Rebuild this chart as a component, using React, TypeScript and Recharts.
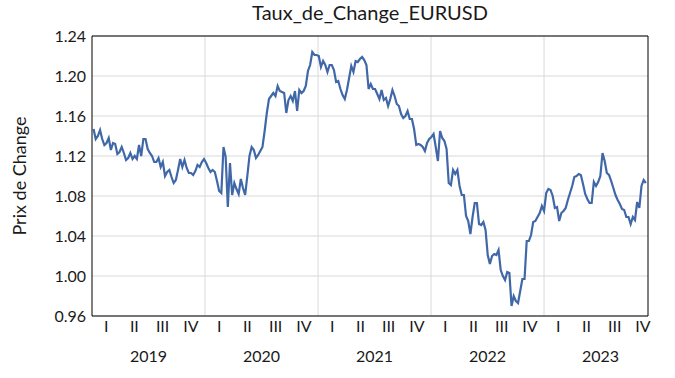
import { LineChart, Line, XAxis, YAxis, CartesianGrid, ReferenceLine } from 'recharts'

// weekly EUR/USD closes, first week of Jan 2019 -> end of Nov 2023
const rates = [
  1.147, 1.137, 1.140, 1.146, 1.137, 1.131, 1.133, 1.138, 1.126, 1.133,
  1.132, 1.122, 1.124, 1.129, 1.123, 1.116, 1.118, 1.123, 1.117, 1.120,
  1.117, 1.131, 1.120, 1.137, 1.137, 1.127, 1.123, 1.120, 1.114, 1.114,
  1.118, 1.109, 1.114, 1.100, 1.104, 1.106, 1.099, 1.093, 1.096, 1.106,
  1.117, 1.109, 1.116, 1.108, 1.103, 1.103, 1.101, 1.105, 1.111, 1.109,
  1.114, 1.117, 1.113, 1.108, 1.104, 1.106, 1.104, 1.095, 1.085, 1.083,
  1.129, 1.119, 1.069, 1.113, 1.081, 1.093, 1.087, 1.082, 1.097, 1.088,
  1.081, 1.100, 1.120, 1.129, 1.126, 1.118, 1.121, 1.125, 1.129, 1.145,
  1.163, 1.177, 1.180, 1.183, 1.180, 1.190, 1.185, 1.184, 1.183, 1.163,
  1.176, 1.180, 1.175, 1.185, 1.165, 1.186, 1.183, 1.185, 1.190, 1.205,
  1.211, 1.224, 1.221, 1.221, 1.220, 1.209, 1.215, 1.211, 1.204, 1.211,
  1.211, 1.206, 1.194, 1.195, 1.187, 1.181, 1.177, 1.186, 1.198, 1.210,
  1.204, 1.215, 1.214, 1.217, 1.219, 1.216, 1.211, 1.187, 1.192, 1.187,
  1.187, 1.182, 1.177, 1.186, 1.176, 1.178, 1.170, 1.177, 1.186, 1.180,
  1.172, 1.170, 1.162, 1.158, 1.160, 1.165, 1.157, 1.157, 1.147, 1.131,
  1.132, 1.131, 1.129, 1.125, 1.133, 1.137, 1.139, 1.142, 1.129, 1.115,
  1.145, 1.138, 1.135, 1.127, 1.093, 1.091, 1.106, 1.102, 1.106, 1.090,
  1.081, 1.081, 1.060, 1.055, 1.042, 1.059, 1.073, 1.073, 1.052, 1.051,
  1.054, 1.046, 1.021, 1.012, 1.020, 1.022, 1.021, 1.026, 1.006, 1.000,
  0.996, 1.004, 1.003, 0.970, 0.980, 0.975, 0.973, 0.985, 0.997, 0.997,
  1.035, 1.035, 1.041, 1.054, 1.055, 1.059, 1.063, 1.070, 1.065, 1.083,
  1.087, 1.086, 1.080, 1.068, 1.069, 1.055, 1.063, 1.065, 1.068, 1.076,
  1.083, 1.090, 1.099, 1.100, 1.102, 1.101, 1.092, 1.082, 1.077, 1.073,
  1.073, 1.094, 1.090, 1.094, 1.100, 1.123, 1.115, 1.103, 1.101, 1.095,
  1.088, 1.081, 1.076, 1.072, 1.067, 1.066, 1.059, 1.059, 1.052, 1.059,
  1.056, 1.074, 1.068, 1.090, 1.096, 1.093,
]

const startYear = 2019
const startDay = 5 // 6 Jan 2019
const endYear = 2023.92
const years = [2019, 2020, 2021, 2022, 2023]
const quarterLabels = ['I', 'II', 'III', 'IV']
const yTicks = [0.96, 1.0, 1.04, 1.08, 1.12, 1.16, 1.2, 1.24]

const data = rates.map((v, i) => ({ t: startYear + (startDay + 7 * i) / 365.25, v }))
const quarterTicks = years.flatMap(y => quarterLabels.map((_, q) => y + 0.125 + q * 0.25))
const yearTicks = years.map(y => y + 0.5)

const font = 'Lato, "Open Sans", sans-serif'
const tickStyle = { fontSize: 16, fill: '#1a1a1a', fontFamily: font }

function YLabel({ viewBox }: any) {
  const cy = viewBox.y + viewBox.height / 2
  return (
    <text x={19} y={cy} transform={`rotate(-90, 19, ${cy})`} textAnchor="middle"
      dominantBaseline="central" fontSize={18} fill="#1a1a1a" fontFamily={font}>
      Prix de Change
    </text>
  )
}

export default function App() {
  return (
    <div style={{ position: 'relative', width: 675, height: 378, background: '#fff' }}>
      <style>{'body{margin:0}'}</style>
      <div style={{
        position: 'absolute', left: 92, width: 556, top: 0, textAlign: 'center',
        fontFamily: font, fontSize: 20, color: '#1a1a1a'
      }}>
        Taux_de_Change_EURUSD
      </div>
      <LineChart width={675} height={378} data={data} margin={{ top: 36, right: 27, bottom: 0, left: 0 }}>
        <CartesianGrid vertical={false} stroke="#d9d9d9" />
        {years.slice(1).map(y => (
          <ReferenceLine key={y} x={y} stroke="#d9d9d9" />
        ))}
        <ReferenceLine y={1.24} stroke="#000" />
        <ReferenceLine x={endYear} stroke="#000" />
        <XAxis dataKey="t" type="number" domain={[startYear, endYear]} ticks={quarterTicks}
          interval={0} height={28} tickSize={0} tickMargin={5}
          axisLine={{ stroke: '#000' }} tick={tickStyle}
          tickFormatter={v => quarterLabels[Math.floor((v - Math.floor(v)) * 4)]} />
        <XAxis xAxisId="year" dataKey="t" type="number" domain={[startYear, endYear]} ticks={yearTicks}
          interval={0} height={34} tickSize={0} tickMargin={7}
          axisLine={false} tick={tickStyle}
          tickFormatter={v => String(Math.floor(v))} />
        <YAxis domain={[0.96, 1.24]} ticks={yTicks} interval={0} width={92} tickSize={0} tickMargin={6}
          axisLine={{ stroke: '#000' }} tick={tickStyle}
          tickFormatter={v => v.toFixed(2)} label={<YLabel />} />
        <Line type="linear" dataKey="v" stroke="#4068a8" strokeWidth={2.2} dot={false} isAnimationActive={false} />
      </LineChart>
    </div>
  )
}
